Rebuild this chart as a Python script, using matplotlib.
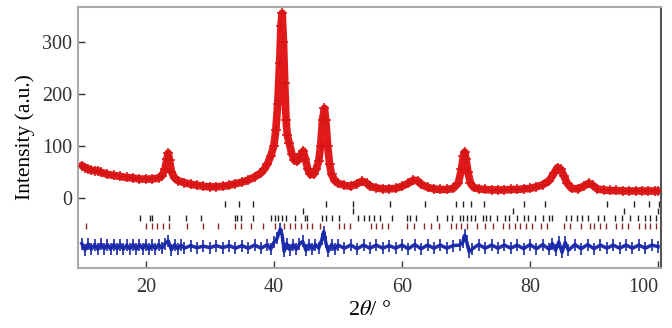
import matplotlib
matplotlib.use("Agg")
import matplotlib.pyplot as plt

plt.rcParams['font.family'] = ['Liberation Serif', 'DejaVu Serif']
plt.rcParams['mathtext.fontset'] = 'stix'

tt_obs = [10.0, 10.5, 11.0, 11.5, 12.0, 12.5, 13.0, 14.0, 15.0, 16.0, 17.0, 18.0, 19.0, 20.0,
          21.0, 22.0, 22.5, 23.0, 23.3, 23.5, 23.7, 24.0, 24.5, 25.0, 26.0, 27.0, 28.0, 29.0,
          30.0, 31.0, 32.0, 33.0, 34.0, 35.0, 36.0, 37.0, 38.0, 38.5, 39.0, 39.5, 40.0, 40.3,
          40.6, 40.9, 41.1, 41.3, 41.5, 41.7, 41.9, 42.1, 42.4, 42.8, 43.2, 43.6, 44.0, 44.3,
          44.6, 44.9, 45.3, 45.7, 46.2, 46.6, 47.0, 47.3, 47.6, 47.9, 48.1, 48.4, 48.7, 49.0,
          49.5, 50.0, 51.0, 52.0, 53.0, 53.8, 54.5, 55.0, 56.0, 57.0, 58.0, 59.0, 60.0, 61.0,
          61.8, 62.5, 63.0, 64.0, 65.0, 66.0, 67.0, 68.0, 68.8, 69.3, 69.6, 69.8, 70.0, 70.3,
          70.7, 71.2, 72.0, 73.0, 74.0, 75.0, 76.0, 77.0, 78.0, 79.0, 80.0, 81.0, 82.0, 83.0,
          83.8, 84.3, 84.8, 85.3, 85.8, 86.5, 87.5, 88.5, 89.2, 89.8, 90.5, 91.5, 92.5, 93.5,
          94.5, 95.5, 96.5, 97.5, 98.5, 99.5, 100.0]
i_obs = [62, 58, 55, 53, 52, 52, 49, 45, 43, 41, 39, 38, 36, 36,
         36, 38, 42, 55, 75, 86, 72, 50, 38, 33, 29, 26, 24, 22,
         21, 21, 22, 24, 27, 30, 34, 40, 48, 55, 65, 80, 100, 130,
         180, 260, 330, 355, 300, 220, 150, 120, 105, 85, 72, 70, 75, 85,
         90, 75, 55, 45, 45, 55, 70, 100, 150, 172, 150, 100, 65, 45,
         33, 28, 24, 22, 27, 32, 28, 22, 19, 17, 17, 18, 22, 28,
         34, 32, 26, 20, 17, 16, 16, 18, 28, 55, 80, 88, 75, 50,
         28, 20, 17, 16, 15, 15, 15, 16, 16, 17, 18, 21, 25, 33,
         48, 58, 55, 42, 28, 18, 17, 23, 28, 24, 17, 15, 14, 14,
         13, 13, 13, 13, 13, 13, 13]

# difference curve
tt_diff = [10, 10.5, 11, 11.5, 12, 12.5, 13, 13.5, 14, 14.5, 15, 15.5, 16, 16.5, 17, 17.5,
           18, 18.5, 19, 19.5, 20, 20.5, 21, 21.5, 22, 22.5, 23, 23.5, 24, 24.5, 25, 25.5,
           26, 27, 28, 29, 30, 31, 32, 33, 34, 35, 36, 37, 38, 39, 39.5, 40, 40.5, 41.0,
           41.3, 41.6, 42, 42.5, 43, 43.5, 44, 44.5, 45, 45.5, 46, 46.5, 47, 47.5, 47.8,
           48.1, 48.5, 49, 49.5, 50, 51, 52, 53, 54, 55, 56, 57, 58, 59, 60, 61, 62, 63,
           64, 65, 66, 67, 68, 69, 69.5, 69.8, 70.1, 70.5, 71, 72, 73, 74, 75, 76, 77, 78,
           79, 80, 81, 82, 83, 83.5, 84, 84.5, 85, 85.5, 86, 87, 88, 89, 90, 91, 92, 93,
           94, 95, 96, 97, 98, 99, 100]
i_diff = [-88, -100, -89, -99, -90, -99, -89, -98, -90, -99, -90, -98, -90, -99, -91, -98,
          -90, -99, -90, -98, -90, -99, -91, -98, -90, -97, -88, -83, -100, -90, -98, -91,
          -97, -92, -96, -93, -96, -92, -96, -92, -97, -92, -97, -91, -97, -90, -99, -86, -78, -60,
          -72, -103, -88, -100, -90, -99, -89, -84, -101, -90, -99, -90, -97, -80, -65,
          -86, -103, -90, -99, -91, -97, -91, -98, -91, -97, -91, -97, -92, -97, -91, -98, -90, -98,
          -91, -97, -91, -97, -92, -91, -86, -72, -84, -104, -98, -90, -97, -91, -97, -91, -97, -91,
          -98, -90, -98, -90, -99, -88, -101, -85, -105, -86, -101, -90, -98, -90, -98, -91, -97, -91,
          -97, -91, -97, -91, -97, -91, -94]

# Bragg reflection positions, four phases
ticks_1 = [32.4, 34.5, 36.7, 48.1, 52.4, 58.1, 63.6, 68.4, 69.6, 70.8, 72.8, 79.1, 82.3,
           92.0, 96.2, 98.6, 100.2]
ticks_2 = [44.6, 52.3, 77.3, 94.7, 100.0]
ticks_3 = [19.1, 20.6, 20.9, 23.6, 26.2, 28.6, 33.9, 34.2, 34.8, 36.8, 39.5, 40.1, 40.7,
           41.3, 41.9, 43.3, 44.8, 45.1, 47.5, 48.1, 49.0, 50.1, 53.1, 54.0, 54.9, 55.7,
           56.6, 58.4, 60.8, 61.3, 62.2, 65.5, 67.0, 67.8, 69.0, 69.6, 70.2, 70.8, 71.4,
           72.6, 73.2, 73.8, 74.9, 76.1, 76.7, 77.9, 79.1, 79.7, 80.8, 82.0, 82.9, 83.5,
           85.6, 86.4, 87.3, 88.2, 89.1, 90.6, 91.5, 93.2, 94.4, 95.6, 96.8, 98.0, 98.8, 99.7]
ticks_4 = [10.6, 20.0, 20.9, 21.8, 22.7, 23.6, 26.5, 28.9, 31.2, 33.9, 34.8, 36.5, 38.3,
           40.1, 41.6, 42.5, 43.3, 44.2, 45.1, 46.0, 47.2, 50.1, 51.0, 51.9, 55.1, 56.0,
           56.9, 57.8, 60.8, 61.9, 63.4, 64.6, 65.8, 67.6, 68.4, 69.3, 70.2, 71.7, 72.9,
           74.3, 75.8, 76.7, 77.6, 78.5, 79.4, 80.3, 81.7, 82.6, 85.3, 86.2, 87.9, 89.4,
           90.0, 90.9, 91.8, 93.5, 94.4, 95.3, 97.1, 98.0, 98.8, 99.7]
tick_rows = [-12, -25, -38, -54]

fig = plt.figure(figsize=(6.72, 3.28), dpi=100)
ax = fig.add_axes([0.116, 0.183, 0.868, 0.796])

ax.plot(tt_obs, i_obs, color='#e31a1c', lw=5.5, solid_joinstyle='round',
        solid_capstyle='round', zorder=2)
ax.plot(tt_obs, i_obs, ls='none', marker='+', ms=7, mew=1.1, color='#d41515', zorder=3)

ax.plot(tt_diff, i_diff, color='#1f2fb0', lw=2.5, zorder=2)
ax.plot(tt_diff, i_diff, ls='none', marker='|', ms=9, mew=1.2, color='#1a28a8', zorder=3)

for tk, yr, c in zip([ticks_1, ticks_2, ticks_3, ticks_4], tick_rows,
                     ['#222222', '#222222', '#222222', '#8b2a2a']):
    ax.plot(tk, [yr] * len(tk), ls='none', marker='|', ms=5, mew=1, color=c)

ax.set_xlim(9.4, 100.5)
ax.set_ylim(-135, 367)
ax.set_xticks([20, 40, 60, 80, 100])
ax.set_yticks([0, 100, 200, 300])
ax.tick_params(direction='in', length=5, width=1, labelsize=14.5, colors='#333333',
               pad=7)
ax.tick_params(axis='y', pad=4)
for s in ['left', 'top', 'bottom']:
    ax.spines[s].set_color('#aaaaaa')
    ax.spines[s].set_linewidth(1.5)
ax.spines['right'].set_color('#555555')
ax.spines['right'].set_linewidth(1.5)
ax.get_xticklabels()[-1].set_horizontalalignment('right')
ax.get_xticklabels()[-1].set_x(100.2)

ax.set_ylabel('Intensity (a.u.)', fontsize=15.5, labelpad=5)
ax.set_xlabel(r'2$\it{\theta}$/ °', fontsize=16, labelpad=3)

fig.savefig('out.png', dpi=100)
